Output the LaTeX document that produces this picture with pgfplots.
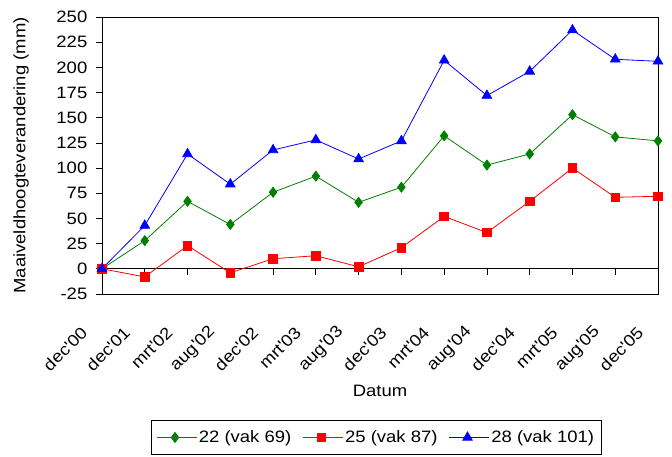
\documentclass[border=0pt]{standalone}
\usepackage{pgfplots}
\pgfplotsset{compat=1.18}
\usepackage{fontspec}
\setmainfont{Liberation Sans}[FakeStretch=1.12, Ligatures=TeXOff]
\definecolor{xgreen}{RGB}{0,128,0}
\definecolor{xred}{RGB}{255,0,0}
\definecolor{xblue}{RGB}{0,0,255}
\newcommand{\tl}[1]{#1\hspace*{42pt}}
\begin{document}
\fontsize{16.5pt}{19pt}\selectfont
\begin{tikzpicture}
\useasboundingbox (0,0) rectangle (672pt,457pt);
\begin{axis}[
  at={(102pt,163pt)}, anchor=south west,
  scale only axis, width=556pt, height=277pt,
  xmin=0, xmax=13, ymin=-25, ymax=250,
  xtick={0,...,13},
  xticklabels={\tl{dec'00},\tl{dec'01},\tl{mrt'02},\tl{aug'02},\tl{dec'02},\tl{mrt'03},\tl{aug'03},\tl{dec'03},\tl{mrt'04},\tl{aug'04},\tl{dec'04},\tl{mrt'05},\tl{aug'05},\tl{dec'05}},
  ytick={-25,0,25,50,75,100,125,150,175,200,225,250},
  tick align=outside,
  ytick pos=left,
  xtick style={draw=none},
  major tick length=6pt,
  /pgf/number format/assume math mode=true,
  yticklabel style={xshift=-3pt},
  xticklabel style={inner sep=0pt, xshift=12pt, rotate=45, anchor=east},
  axis line style={line width=0.8pt},
  every tick/.style={black, line width=0.8pt},
  xlabel={Datum}, ylabel={Maaiveldhoogteverandering (mm)},
  xlabel style={at={(axis description cs:0.5,-0.35)}, anchor=center},
  ylabel style={at={(axis description cs:-0.1457,0.5)}, anchor=center},
  legend columns=3,
  legend style={at={(axis description cs:0.493,-0.518)}, anchor=center, draw=black, line width=0.8pt, inner xsep=5pt, inner ysep=8pt, /tikz/every even column/.append style={column sep=9pt}},
  legend image code/.code={\draw[mark repeat=2,mark phase=2] plot coordinates {(0pt,0pt) (18.5pt,0pt) (37pt,0pt)}; \path (0pt,0pt) -- (40pt,0pt);},
  clip=false,
]
\draw[line width=0.8pt] (axis cs:0,0) -- (axis cs:13,0);
\pgfplotsinvokeforeach{0,...,13}{\draw[line width=0.8pt] (axis cs:#1,0) -- ++(0pt,-6pt);}
\addplot[color=xgreen, line width=0.8pt, mark=diamond*, mark size=5pt, mark options={solid, fill=xgreen}] coordinates {
(0,0) (1,28) (2,67) (3,44) (4,76) (5,92) (6,66) (7,81) (8,132) (9,103) (10,114) (11,153) (12,131) (13,127)};
\addlegendentry{22 (vak 69)}
\addplot[color=xred, line width=0.8pt, mark=square*, mark size=4.3pt, mark options={solid, fill=xred}] coordinates {
(0,0) (1,-8) (2,23) (3,-4) (4,10) (5,13) (6,2) (7,21) (8,52) (9,36) (10,67) (11,100) (12,71) (13,72)};
\addlegendentry{25 (vak 87)}
\addplot[color=xblue, line width=0.8pt, mark=triangle*, mark size=5.5pt, mark options={solid, fill=xblue}] coordinates {
(0,0) (1,43) (2,114) (3,84) (4,118) (5,128) (6,109) (7,127) (8,207) (9,172) (10,196) (11,237) (12,208) (13,206)};
\addlegendentry{28 (vak 101)}
\end{axis}
\end{tikzpicture}
\end{document}
